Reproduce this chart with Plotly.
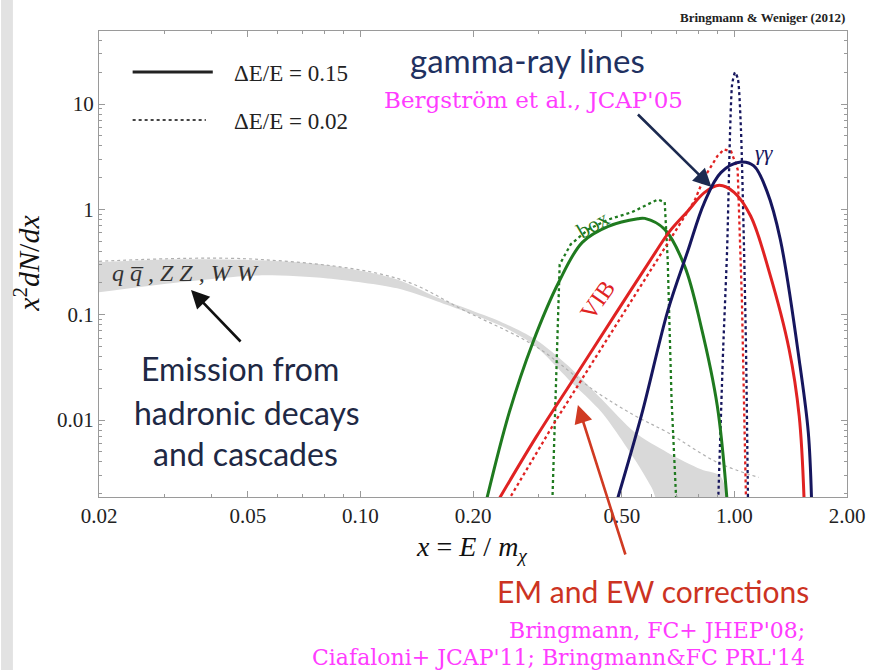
import plotly.graph_objects as go

# ---------------- data ----------------
band_upper_x = [0.02, 0.0328, 0.0534, 0.0817, 0.1254, 0.16, 0.24, 0.294, 0.36, 0.442, 0.542, 0.663, 0.814, 0.92, 0.944]
band_upper_y = [0.314, 0.335, 0.328, 0.294, 0.216, 0.146, 0.084, 0.058, 0.0325, 0.0157, 0.0076, 0.0049, 0.0034, 0.0029, 0.0015]
band_lower_x = [0.02, 0.0328, 0.0534, 0.0817, 0.1254, 0.16, 0.24, 0.294, 0.36, 0.442, 0.542, 0.60, 0.638]
band_lower_y = [0.163, 0.203, 0.236, 0.221, 0.178, 0.134, 0.077, 0.05, 0.0243, 0.0118, 0.0042, 0.0023, 0.0015]

band_dot_x = [0.02, 0.0534, 0.1254, 0.192, 0.294, 0.425, 0.542, 0.663, 0.9, 1.162]
band_dot_y = [0.321, 0.335, 0.221, 0.107, 0.05, 0.0187, 0.011, 0.0076, 0.00396, 0.00285]

box_wide_x = [0.217, 0.25, 0.289, 0.339, 0.392, 0.46, 0.552, 0.576, 0.651, 0.736, 0.814, 0.9, 0.956]
box_wide_y = [0.0017, 0.0118, 0.0542, 0.203, 0.486, 0.69, 0.815, 0.82, 0.645, 0.289, 0.078, 0.0136, 0.0017]
box_narrow_x = [0.326, 0.333, 0.341, 0.365, 0.407, 0.46, 0.532, 0.624, 0.651, 0.663, 0.679, 0.699]
box_narrow_y = [0.0017, 0.0157, 0.30, 0.465, 0.646, 0.80, 0.94, 1.24, 1.17, 0.335, 0.0157, 0.0017]

vib_wide_x = [0.233, 0.2946, 0.376, 0.48, 0.613, 0.671, 0.75, 0.831, 0.911, 0.998, 1.105, 1.24, 1.40, 1.49, 1.536]
vib_wide_y = [0.0017, 0.00684, 0.0262, 0.1007, 0.384, 0.618, 0.96, 1.44, 1.69, 1.45, 0.864, 0.252, 0.047, 0.0109, 0.0017]
vib_narrow_x = [0.248, 0.333, 0.48, 0.664, 0.782, 0.831, 0.901, 0.938, 0.98, 1.02, 1.047, 1.074]
vib_narrow_y = [0.0017, 0.0099, 0.0774, 0.483, 1.204, 2.01, 3.21, 3.71, 3.55, 2.4, 0.14, 0.0017]

gg_wide_x = [0.485, 0.565, 0.664, 0.75, 0.831, 0.92, 1.04, 1.127, 1.222, 1.326, 1.498, 1.576, 1.608]
gg_wide_y = [0.0017, 0.0113, 0.11, 0.40, 1.16, 2.23, 2.81, 2.58, 1.48, 0.52, 0.0325, 0.0076, 0.0017]
gg_narrow_x = [0.905, 0.933, 0.956, 0.974, 0.986, 1.004, 1.022, 1.041, 1.061, 1.074, 1.087]
gg_narrow_y = [0.0017, 0.047, 0.417, 5.75, 15.4, 20, 17.2, 5.75, 0.417, 0.047, 0.0017]

x_tickvals = [0.02, 0.05, 0.1, 0.2, 0.5, 1.0, 2.0]
x_ticktext = ["0.02", "0.05", "0.10", "0.20", "0.50", "1.00", "2.00"]
x_minor = [0.03, 0.04, 0.06, 0.07, 0.08, 0.09, 0.3, 0.4, 0.6, 0.7, 0.8, 0.9]
y_tickvals = [0.01, 0.1, 1, 10]
y_ticktext = ["0.01", "0.1", "1", "10"]
y_minor = [m * 10 ** k for k in (-3, -2, -1, 0, 1) for m in range(2, 10)]

GREEN = "#1f7a1f"
RED = "#e02222"
NAVY = "#16165e"
SERIF = "Liberation Serif"
SANS = "Lato"
TYPE = "DejaVu Serif"
MAGENTA = "#ff3cff"

# plot area in pixels: left 99, right 855, top 31, bottom 497
def PX(x):
    return (x - 99) / 756.0

def PY(y):
    return (497 - y) / 466.0

fig = go.Figure()

fig.add_trace(go.Scatter(
    x=band_upper_x + band_lower_x[::-1], y=band_upper_y + band_lower_y[::-1],
    fill="toself", fillcolor="#d9d9d9", line=dict(width=0, shape="spline", smoothing=0.8),
    mode="lines", hoverinfo="skip", showlegend=False))
fig.add_trace(go.Scatter(x=band_dot_x, y=band_dot_y, mode="lines",
                         line=dict(color="#b0b0b0", width=1.2, dash="dot", shape="spline"),
                         showlegend=False))

def curve(x, y, color, dotted, shape="spline", smoothing=1.0):
    fig.add_trace(go.Scatter(
        x=x, y=y, mode="lines", showlegend=False,
        line=dict(color=color, width=2.3 if dotted else 3, dash="dot" if dotted else "solid",
                  shape=shape, smoothing=smoothing)))

curve(box_narrow_x, box_narrow_y, GREEN, True, shape="linear")
curve(vib_narrow_x, vib_narrow_y, RED, True, shape="linear")
curve(gg_narrow_x, gg_narrow_y, NAVY, True, smoothing=0.6)
curve(box_wide_x, box_wide_y, GREEN, False)
curve(vib_wide_x, vib_wide_y, RED, False)
curve(gg_wide_x, gg_wide_y, NAVY, False)

annotations = []

def text(x, y, s, size, color, family, xanchor="center", angle=0):
    annotations.append(dict(x=PX(x), y=PY(y), xref="paper", yref="paper", text=s,
                            showarrow=False, xanchor=xanchor, yanchor="middle",
                            textangle=angle, font=dict(size=size, color=color, family=family)))

def arrow(tx, ty, hx, hy, color):
    annotations.append(dict(x=PX(hx), y=PY(hy), xref="paper", yref="paper", text="",
                            showarrow=True, ax=tx - hx, ay=ty - hy, arrowhead=2,
                            arrowsize=1.4, arrowwidth=2.6, arrowcolor=color))

# legend
text(233, 73, "ΔE/E = 0.15", 23, "#222", SERIF, xanchor="left")
text(233, 121, "ΔE/E = 0.02", 23, "#222", SERIF, xanchor="left")

text(855, 18, "<b>Bringmann &amp; Weniger (2012)</b>", 13, "#222", SERIF, xanchor="right")
text(532, 60, "gamma-ray lines", 33, "#1f3161", SANS)
text(538, 100, "Bergström et al., JCAP'05", 23, MAGENTA, TYPE)
text(598, 224, "box", 22, GREEN, SERIF, angle=-30)
text(603, 300, "VIB", 24, RED, SERIF, angle=-55)
text(772, 152, "<i>γγ</i>", 22, NAVY, SERIF)
text(186, 273, "<i>q q̅ , Z Z , W W</i>", 24, "#333", SERIF)
text(242, 368, "Emission from", 32, "#202844", SANS)
text(249, 412, "hadronic decays", 32, "#202844", SANS)
text(247, 453, "and cascades", 32, "#202844", SANS)
text(659, 591, "EM and EW corrections", 30, "#cc3322", SANS)
text(815, 630, "Bringmann, FC+ JHEP'08;", 22, MAGENTA, TYPE, xanchor="right")
text(815, 657, "Ciafaloni+ JCAP'11; Bringmann&amp;FC PRL'14", 22, MAGENTA, TYPE, xanchor="right")

# axis titles
text(476, 548, "<i>x</i> = <i>E</i> / <i>m</i><sub><i>χ</i></sub>", 28, "#111", SERIF)
text(26, 263, "<i>x</i><sup>2</sup><i>dN</i>/<i>dx</i>", 30, "#111", SERIF, angle=-90)

arrow(643, 113, 718, 187, "#1c2a50")
arrow(243, 343, 192, 290, "#111")
arrow(631, 556, 583, 405, "#d03a22")

shapes = [
    dict(type="line", xref="paper", yref="paper", x0=PX(133), x1=PX(214), y0=PY(72), y1=PY(72),
         line=dict(color="#222", width=3)),
    dict(type="line", xref="paper", yref="paper", x0=PX(133), x1=PX(207), y0=PY(120), y1=PY(120),
         line=dict(color="#444", width=1.8, dash="dot")),
    dict(type="rect", xref="paper", yref="paper", x0=PX(0), x1=PX(12), y0=PY(670), y1=PY(0),
         fillcolor="#e2e2e2", line=dict(width=0), layer="below"),
]

axis_common = dict(showline=True, linecolor="#9a9a9a", linewidth=1, mirror="ticks",
                   ticks="inside", ticklen=6, tickcolor="#9a9a9a", showgrid=False, zeroline=False,
                   tickfont=dict(family=SERIF, size=21, color="#222"))

fig.update_layout(
    width=877, height=670,
    margin=dict(l=99, r=22, t=31, b=173),
    paper_bgcolor="white", plot_bgcolor="white",
    showlegend=False,
    xaxis=dict(type="log", range=[-1.699, 0.301], tickmode="array", tickvals=x_tickvals,
               ticktext=x_ticktext,
               minor=dict(tickmode="array", tickvals=x_minor, ticks="inside", ticklen=3,
                          tickcolor="#9a9a9a"),
               **axis_common),
    yaxis=dict(type="log", range=[-2.731, 1.693], tickmode="array", tickvals=y_tickvals,
               ticktext=y_ticktext,
               minor=dict(tickmode="array", tickvals=y_minor, ticks="inside", ticklen=3,
                          tickcolor="#9a9a9a"),
               **axis_common),
    annotations=annotations,
    shapes=shapes,
)

fig.write_html("out.html")
